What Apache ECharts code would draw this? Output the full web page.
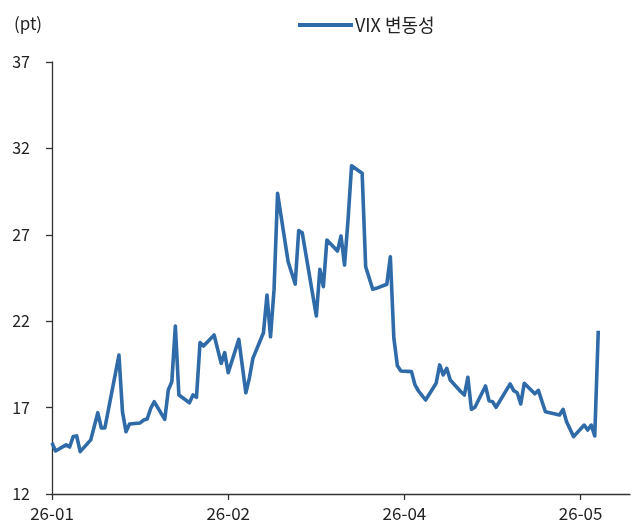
<!DOCTYPE html>
<html>
<head>
<meta charset="utf-8">
<script src="https://cdn.jsdelivr.net/npm/echarts@6/dist/echarts.min.js"></script>
<style>
  html, body { margin: 0; padding: 0; background: #fff; }
  #chart { width: 633px; height: 528px; }
</style>
</head>
<body>
<div id="chart"></div>
<script>
// VIX 일별 종가
const dates = [
  '2026-01-01','2026-01-02','2026-01-05','2026-01-06','2026-01-07','2026-01-08','2026-01-09','2026-01-12','2026-01-14','2026-01-15',
  '2026-01-16','2026-01-20','2026-01-21','2026-01-22','2026-01-23','2026-01-26','2026-01-27','2026-01-28','2026-01-29','2026-01-30',
  '2026-02-02','2026-02-03','2026-02-04','2026-02-05','2026-02-06','2026-02-09','2026-02-10','2026-02-11','2026-02-12','2026-02-13',
  '2026-02-16','2026-02-18','2026-02-19','2026-02-20','2026-02-23','2026-02-25','2026-02-26','2026-02-27',
  '2026-03-02','2026-03-03','2026-03-04','2026-03-05','2026-03-06','2026-03-09','2026-03-11','2026-03-12','2026-03-13','2026-03-17',
  '2026-03-18','2026-03-19','2026-03-20','2026-03-23','2026-03-24','2026-03-25','2026-03-26','2026-03-27','2026-03-30','2026-03-31',
  '2026-04-02','2026-04-03','2026-04-06','2026-04-07','2026-04-08','2026-04-09','2026-04-10','2026-04-13','2026-04-14','2026-04-15',
  '2026-04-17','2026-04-20','2026-04-21','2026-04-22','2026-04-23','2026-04-24','2026-04-27','2026-04-28','2026-04-29','2026-04-30',
  '2026-05-01','2026-05-04','2026-05-05','2026-05-06','2026-05-07','2026-05-11','2026-05-12','2026-05-13','2026-05-14','2026-05-15',
  '2026-05-18','2026-05-19','2026-05-21','2026-05-25','2026-05-26','2026-05-27','2026-05-29',
  '2026-06-01','2026-06-02','2026-06-03','2026-06-04','2026-06-05'
];
const vix = [
  14.97, 14.49, 14.84, 14.72, 15.32, 15.36, 14.45, 15.13, 16.70, 15.82,
  15.82, 20.04, 16.75, 15.61, 16.05, 16.11, 16.28, 16.34, 16.95, 17.34,
  16.32, 18.02, 18.50, 21.72, 17.73, 17.28, 17.73, 17.60, 20.76, 20.56,
  21.20, 19.56, 20.18, 19.02, 20.95, 17.86, 18.71, 19.85,
  21.33, 23.52, 21.10, 23.81, 29.40, 25.44, 24.15, 27.24, 27.12, 22.30,
  25.00, 24.00, 26.70, 26.06, 26.93, 25.25, 27.86, 31.00, 30.56, 25.15,
  23.85, 23.90, 24.14, 25.73, 21.01, 19.42, 19.12, 19.08, 18.31, 17.96,
  17.44, 18.41, 19.47, 18.89, 19.27, 18.60, 17.92, 17.73, 18.75, 16.90,
  17.02, 18.25, 17.40, 17.34, 17.02, 18.37, 17.98, 17.86, 17.21, 18.41,
  17.80, 18.00, 16.76, 16.57, 16.90, 16.18, 15.32,
  15.99, 15.70, 15.99, 15.36, 21.45
];
// x축 눈금 날짜 (엑셀 날짜축, 50일 간격)
const xTickDates = ['2026-01-01', '2026-02-20', '2026-04-11', '2026-05-31'];
const xEndDate = '2026-06-14';
const yMin = 12, yMax = 37, yStep = 5;

const seriesName = 'VIX 변동성';
const unitLabel = '(pt)';

const DAY = 86400000;
function toUtc(s) {
  const p = s.split('-').map(Number);
  return Date.UTC(p[0], p[1] - 1, p[2]);
}
const base = toUtc(xTickDates[0]);
function dayOf(s) { return Math.round((toUtc(s) - base) / DAY); }
function fmt(v) {
  const d = new Date(base + v * DAY);
  const yy = String(d.getUTCFullYear()).slice(2);
  const mm = String(d.getUTCMonth() + 1).padStart(2, '0');
  return yy + '-' + mm;
}

const tickDays = xTickDates.map(dayOf);
const lineData = dates.map((d, i) => [dayOf(d), vix[i]]);

const font = '"Noto Sans CJK KR", "Noto Sans", sans-serif';
const chart = echarts.init(document.getElementById('chart'));
chart.setOption({
  animation: false,
  textStyle: { fontFamily: font },
  title: {
    text: unitLabel,
    left: 9,
    top: 10,
    textStyle: { fontSize: 17, fontWeight: 'normal', color: '#222', fontFamily: font }
  },
  legend: {
    data: [seriesName],
    left: 293,
    top: 11,
    itemWidth: 55,
    itemHeight: 4,
    itemGap: 4,
    icon: 'rect',
    textStyle: { fontSize: 18, color: '#222', fontFamily: font, padding: [0, 0, 0, -3] }
  },
  grid: { left: 52, right: 3, top: 62, bottom: 34, containLabel: false },
  xAxis: {
    type: 'value',
    min: 0,
    max: dayOf(xEndDate),
    axisLine: { show: true, lineStyle: { color: '#333', width: 1.3 } },
    axisTick: { show: true, length: 6, customValues: tickDays, lineStyle: { color: '#333', width: 1.3 } },
    axisLabel: {
      customValues: tickDays,
      formatter: fmt,
      margin: 11,
      fontSize: 17,
      color: '#222',
      fontFamily: font
    },
    splitLine: { show: false }
  },
  yAxis: {
    type: 'value',
    min: yMin,
    max: yMax,
    interval: yStep,
    axisLine: { show: true, lineStyle: { color: '#333', width: 1.3 } },
    axisTick: { show: true, length: 6, lineStyle: { color: '#333', width: 1.3 } },
    axisLabel: { margin: 22, fontSize: 16, color: '#222', fontFamily: font },
    splitLine: { show: false }
  },
  series: [{
    name: seriesName,
    type: 'line',
    data: lineData,
    showSymbol: false,
    symbol: 'none',
    lineStyle: { color: '#2e6ba8', width: 3.6, join: 'round' },
    itemStyle: { color: '#2e6ba8' }
  }]
});
</script>
</body>
</html>
